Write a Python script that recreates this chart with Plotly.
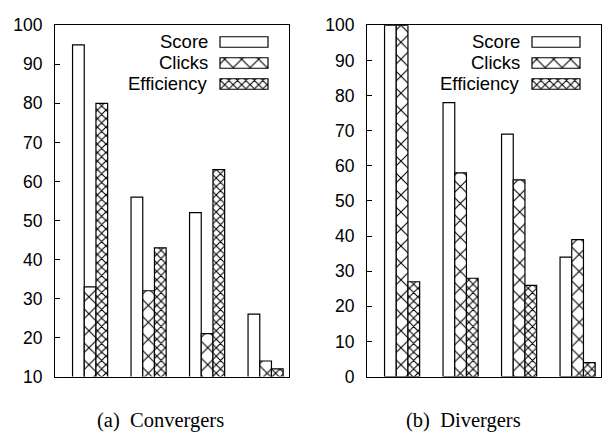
import plotly.graph_objects as go

# ---- data ----
groups = [0, 1, 2, 3]
series_names = ["Score", "Clicks", "Efficiency"]
conv_score = [95, 56, 52, 26]
conv_clicks = [33, 32, 21, 14]
conv_eff = [80, 43, 63, 12]
div_score = [100, 78, 69, 34]
div_clicks = [100, 58, 56, 39]
div_eff = [27, 28, 26, 4]
yticks_conv = [10, 20, 30, 40, 50, 60, 70, 80, 90, 100]
yticks_div = [0, 10, 20, 30, 40, 50, 60, 70, 80, 90, 100]
captions = ["(a)&nbsp;&nbsp;Convergers", "(b)&nbsp;&nbsp;Divergers"]

W, H = 602, 442
# pixel layout
p1_x0, p1_x1 = 55, 289
p2_x0, p2_x1 = 367, 601
py0, py1 = 16, 384

pattern_shapes = ["", "x", "x"]
pattern_sizes = [8, 12, 6]
pattern_sol = [0.1, 0.17, 0.33]

fig = go.Figure()

def add_panel(vals, xa, ya):
    for i, (name, v) in enumerate(zip(series_names, vals)):
        fig.add_trace(go.Bar(
            x=groups, y=v, name=name, xaxis=xa, yaxis=ya, showlegend=False,
            marker=dict(color="white", line=dict(color="black", width=1.2),
                        pattern=dict(shape=pattern_shapes[i], size=pattern_sizes[i],
                                     solidity=pattern_sol[i], fgcolor="black",
                                     bgcolor="white", fillmode="replace")),
        ))

add_panel([conv_score, conv_clicks, conv_eff], "x", "y")
add_panel([div_score, div_clicks, div_eff], "x2", "y2")

# legend keys drawn on pixel-unit overlay axes
pw = p1_x1 - p1_x0
ph = py1 - py0
key_w = 48
key_right_gap = 21
key_left = pw - key_right_gap - key_w
row_y = [ph - (33.5 - py0), ph - (55.5 - py0), ph - (77.5 - py0)]

for xa, ya in [("x3", "y3"), ("x4", "y4")]:
    fig.add_trace(go.Bar(
        y=row_y, x=[key_w] * 3, base=[key_left] * 3, orientation="h", width=11,
        xaxis=xa, yaxis=ya, showlegend=False, hoverinfo="skip",
        marker=dict(color="white", line=dict(color="black", width=1.2),
                    pattern=dict(shape=pattern_shapes, size=pattern_sizes,
                                 solidity=pattern_sol, fgcolor="black",
                                 bgcolor="white", fillmode="replace")),
    ))
    for name, yy in zip(series_names, row_y):
        fig.add_annotation(x=key_left - 10, y=yy, xref=xa, yref=ya, text=name,
                           showarrow=False, xanchor="right", yanchor="middle",
                           font=dict(family="Liberation Sans, Arial", size=18.5, color="black"))

dom1 = [p1_x0 / W, p1_x1 / W]
dom2 = [p2_x0 / W, p2_x1 / W]
ydom = [(H - py1) / H, (H - py0) / H]

axis_common = dict(showline=True, linecolor="black", linewidth=1, mirror=True,
                   showgrid=False, zeroline=False)
yaxis_common = dict(axis_common, ticks="inside", ticklen=5, tickcolor="black",
                    tickwidth=1, tickfont=dict(family="Liberation Sans, Arial", size=17.5, color="black"),
                    ticklabelstandoff=8)

fig.update_layout(
    width=W, height=H, margin=dict(l=0, r=0, t=0, b=0),
    paper_bgcolor="white", plot_bgcolor="white",
    barmode="group", bargap=0.4, bargroupgap=0,
    xaxis=dict(axis_common, domain=dom1, range=[-0.6, 3.4], showticklabels=False, ticks="", anchor="y"),
    yaxis=dict(yaxis_common, domain=ydom, range=[10, 100], tickvals=yticks_conv, anchor="x"),
    xaxis2=dict(axis_common, domain=dom2, range=[-0.6, 3.4], showticklabels=False, ticks="", anchor="y2"),
    yaxis2=dict(yaxis_common, domain=ydom, range=[0, 100], tickvals=yticks_div, anchor="x2"),
    xaxis3=dict(overlaying="x", range=[0, pw], visible=False, anchor="y3"),
    yaxis3=dict(overlaying="y", range=[0, ph], visible=False, anchor="x3"),
    xaxis4=dict(overlaying="x2", range=[0, pw], visible=False, anchor="y4"),
    yaxis4=dict(overlaying="y2", range=[0, ph], visible=False, anchor="x4"),
    showlegend=False,
)

for cap, cx in zip(captions, [160, 463]):
    fig.add_annotation(x=cx / W, y=(H - 430) / H, xref="paper", yref="paper", text=cap,
                       showarrow=False, xanchor="center", yanchor="middle",
                       font=dict(family="Liberation Serif, Times New Roman", size=20.5, color="black"))

fig.write_html("out.html")
